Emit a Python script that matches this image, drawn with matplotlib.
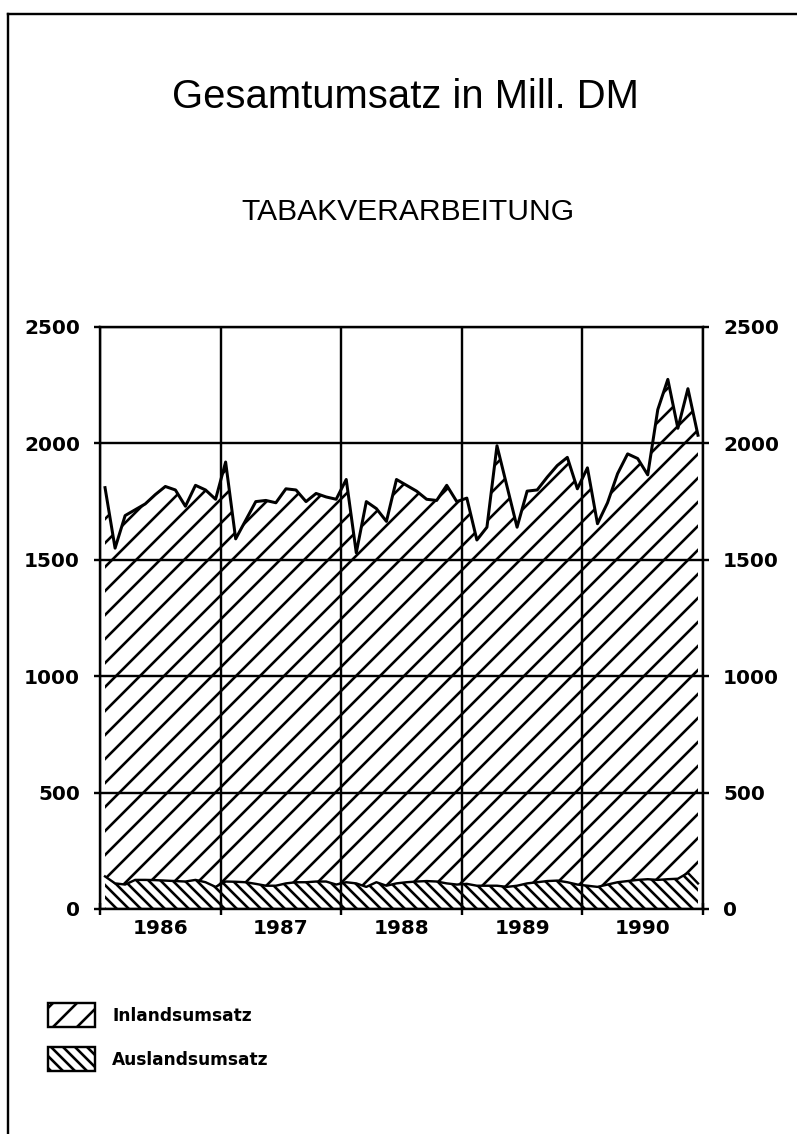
import matplotlib
matplotlib.use("Agg")
import matplotlib.pyplot as plt
from matplotlib.lines import Line2D
from matplotlib.patches import Rectangle
import numpy as np

# monthly values, Mill. DM, Jan 1986 .. Dec 1990
gesamt = [
    1810, 1550, 1690, 1715, 1740, 1780, 1815, 1800, 1730, 1820, 1800, 1760,
    1920, 1590, 1670, 1750, 1755, 1745, 1805, 1800, 1750, 1785, 1770, 1760,
    1845, 1530, 1750, 1720, 1665, 1845, 1820, 1795, 1760, 1755, 1820, 1750,
    1765, 1585, 1640, 1990, 1815, 1640, 1795, 1800, 1855, 1905, 1940, 1805,
    1895, 1655, 1745, 1870, 1955, 1935, 1865, 2145, 2275, 2065, 2235, 2035,
]
ausland = [
    140, 110, 105, 125, 125, 124, 122, 120, 118, 125, 115, 95,
    118, 117, 115, 108, 100, 100, 110, 115, 115, 118, 118, 105,
    115, 110, 95, 115, 100, 110, 115, 118, 120, 118, 110, 105,
    108, 100, 100, 100, 95, 100, 110, 115, 120, 122, 115, 105,
    100, 95, 105, 115, 120, 125, 128, 125, 128, 130, 155, 110,
]
years = ["1986", "1987", "1988", "1989", "1990"]
yticks = [0, 500, 1000, 1500, 2000, 2500]

W, H, DPI = 797, 1134, 144
plt.rcParams["hatch.linewidth"] = 1.3
plt.rcParams["hatch.color"] = "black"


def fx(x):
    return x / W


def fy(y):
    return 1 - y / H


fig = plt.figure(figsize=(W / DPI, H / DPI), dpi=DPI)
fig.patch.set_facecolor("white")

# page frame (top and left edges of the scanned sheet)
fig.add_artist(Line2D([fx(8), fx(797)], [fy(14), fy(14)], color="black", lw=1.2))
fig.add_artist(Line2D([fx(8), fx(8)], [fy(14), fy(1134)], color="black", lw=1.2))

fig.text(fx(405), fy(97), "Gesamtumsatz in Mill. DM", ha="center", va="center",
         fontsize=20, family="Liberation Sans")
fig.text(fx(408), fy(212), "TABAKVERARBEITUNG", ha="center", va="center",
         fontsize=15, family="Liberation Sans")

ax = fig.add_axes([fx(100), fy(909), (703 - 100) / W, (909 - 327) / H])

x = np.arange(len(gesamt)) + 0.5
g = np.array(gesamt)
a = np.array(ausland)

ax.fill_between(x, 0, a, facecolor="none", edgecolor="black", hatch="\\\\\\\\", linewidth=0)
ax.fill_between(x, a, g, facecolor="none", edgecolor="black", hatch="//", linewidth=0)
ax.plot(x, a, color="black", lw=1.2)
ax.plot(x, g, color="black", lw=1.5)

ax.set_xlim(0, 60)
ax.set_ylim(0, 2500)
ax.set_yticks(yticks)
ax.set_xticks(np.arange(0, 61, 12))
ax.set_xticklabels([])
ax.set_xticks(np.arange(6, 60, 12), minor=True)
ax.set_xticklabels(years, minor=True)

ax.grid(True, which="major", color="black", linewidth=1.2)
for s in ax.spines.values():
    s.set_linewidth(1.2)

tick_font = dict(family="DejaVu Sans", weight="bold", size=10)
ax.tick_params(axis="y", left=True, right=True, labelleft=True, labelright=True,
               direction="out", length=3, width=1.2, pad=7)
ax.tick_params(axis="x", which="major", direction="inout", length=6, width=1.2)
ax.tick_params(axis="x", which="minor", length=0, pad=5)
for lab in ax.get_xticklabels(minor=True):
    lab.set_fontproperties(tick_font)
for t in ax.yaxis.get_major_ticks():
    t.label1.set_fontproperties(tick_font)
    t.label2.set_fontproperties(tick_font)

# legend drawn by hand, like the original sheet
legend = [("Inlandsumsatz", "//", 1003), ("Auslandsumsatz", "\\\\\\\\", 1047)]
for name, hatch, top in legend:
    fig.add_artist(Rectangle((fx(48), fy(top + 24)), (95 - 48) / W, 24 / H,
                             facecolor="none", edgecolor="black", hatch=hatch,
                             linewidth=1.2, transform=fig.transFigure))
    fig.text(fx(112), fy(top + 13), name, ha="left", va="center",
             family="DejaVu Sans", weight="bold", fontsize=8.5)

fig.savefig("out.png", dpi=DPI, facecolor="white")
